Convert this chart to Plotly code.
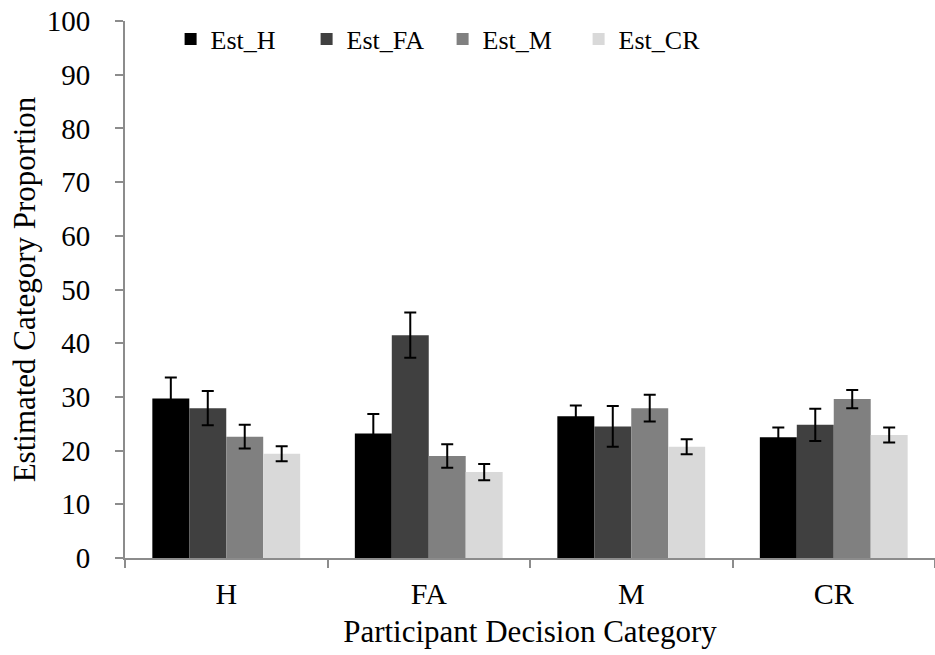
import plotly.graph_objects as go

# Participant decision categories on the x axis
categories = ["H", "FA", "M", "CR"]

# Estimated category proportions (%) for each estimate type
series_names = ["Est_H", "Est_FA", "Est_M", "Est_CR"]
est_h = [29.7, 23.2, 26.4, 22.5]
est_fa = [27.9, 41.5, 24.5, 24.8]
est_m = [22.6, 19.0, 27.9, 29.6]
est_cr = [19.4, 16.0, 20.7, 22.9]

# Standard errors
err_h = [3.9, 3.6, 2.0, 1.8]
err_fa = [3.2, 4.2, 3.8, 3.0]
err_m = [2.2, 2.2, 2.5, 1.7]
err_cr = [1.4, 1.5, 1.4, 1.4]

y_ticks = [0, 10, 20, 30, 40, 50, 60, 70, 80, 90, 100]

bar_colors = ["#000000", "#404040", "#808080", "#d9d9d9"]
axis_color = "#8c8c8c"
font_family = "Liberation Serif, Times New Roman, serif"

values = [est_h, est_fa, est_m, est_cr]
errors = [err_h, err_fa, err_m, err_cr]

fig = go.Figure()
for name, vals, errs, col in zip(series_names, values, errors, bar_colors):
    fig.add_trace(go.Bar(
        x=categories,
        y=vals,
        name=name,
        marker=dict(color=col, line=dict(width=0)),
        error_y=dict(type="data", array=errs, visible=True,
                     color="#000000", thickness=2, width=6),
    ))

fig.update_layout(
    width=935,
    height=655,
    barmode="group",
    bargap=0.27,
    bargroupgap=0,
    plot_bgcolor="white",
    paper_bgcolor="white",
    margin=dict(l=125, r=0, t=21, b=97, autoexpand=False),
    font=dict(family=font_family, color="#000000"),
    legend=dict(
        orientation="h",
        x=0.0563, y=0.9665, xanchor="left", yanchor="middle",
        font=dict(size=26, family=font_family),
        entrywidth=91,
        bgcolor="rgba(0,0,0,0)",
    ),
    xaxis=dict(
        type="category",
        range=[-0.5, 3.5],
        tickson="boundaries",
        ticks="outside",
        ticklen=8,
        tickwidth=2,
        tickcolor=axis_color,
        showline=True,
        linecolor=axis_color,
        linewidth=2,
        showgrid=False,
        tickfont=dict(size=30, family=font_family),
        ticklabelstandoff=8,
        title=dict(text="Participant Decision Category",
                   font=dict(size=31, family=font_family), standoff=11),
    ),
    yaxis=dict(
        range=[0, 100],
        tickvals=y_ticks,
        ticks="outside",
        ticklen=8,
        tickwidth=2,
        tickcolor=axis_color,
        showline=True,
        linecolor=axis_color,
        linewidth=2,
        showgrid=False,
        zeroline=False,
        tickfont=dict(size=29, family=font_family),
        ticklabelstandoff=19,
        title=dict(text="Estimated Category Proportion",
                   font=dict(size=31, family=font_family), standoff=2),
    ),
)

fig.write_html("out.html")
